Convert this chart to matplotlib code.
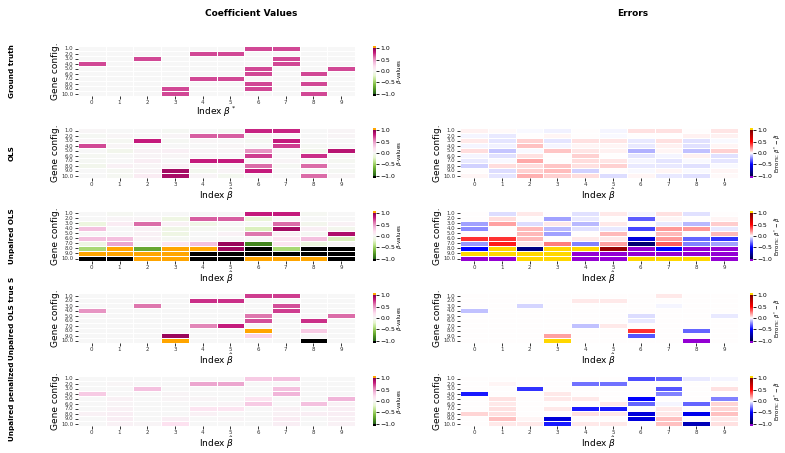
import numpy as np
import matplotlib.pyplot as plt
from matplotlib import colors as mcolors

# values > 1 are drawn as 1.5 (over colour), values < -1 as -1.5 (under colour)
O = 1.5
U = -1.5

genes = [1.0, 2.0, 3.0, 4.0, 5.0, 6.0, 7.0, 8.0, 9.0, 10.0]
index = [0, 1, 2, 3, 4, 5, 6, 7, 8, 9]
row_names = ['Ground truth', 'OLS', 'Unpaired OLS', 'Unpaired OLS true S', 'Unpaired penalized']

beta_true = [
    [0, 0, 0, 0, 0, 0, .7, .7, 0, 0],
    [0, 0, 0, 0, .7, .7, 0, 0, 0, 0],
    [0, 0, .7, 0, 0, 0, 0, .7, 0, 0],
    [.7, 0, 0, 0, 0, 0, 0, .7, 0, 0],
    [0, 0, 0, 0, 0, 0, .7, 0, 0, .7],
    [0, 0, 0, 0, 0, 0, .7, 0, .7, 0],
    [0, 0, 0, 0, .7, .7, 0, 0, 0, 0],
    [0, 0, 0, 0, 0, 0, .7, 0, .7, 0],
    [0, 0, 0, .7, 0, 0, .7, 0, 0, 0],
    [0, 0, 0, .7, 0, 0, 0, 0, .7, 0],
]

beta_ols = [
    [.02, 0, 0, -.02, 0, -.02, .78, .78, 0, .03],
    [-.02, .02, 0, .03, .65, .65, -.03, 0, 0, .03],
    [.02, -.03, .8, -.02, .02, 0, -.02, .8, 0, 0],
    [.7, .02, 0, 0, 0, .02, 0, .72, -.02, 0],
    [0, -.06, .04, .06, .03, .02, .5, 0, -.06, .85],
    [-.03, 0, .03, .02, .02, 0, .72, 0, .75, 0],
    [-.02, 0, .08, 0, .8, .8, 0, .03, 0, -.03],
    [-.06, .05, .02, .05, .02, 0, .62, -.02, .62, 0],
    [0, -.03, .04, .92, -.04, .03, .8, 0, 0, -.02],
    [0, -.03, .1, .9, .03, -.04, 0, 0, .62, .02],
]

beta_unpaired = [
    [0, -.03, 0, 0, 0, 0, .8, .8, -.03, 0],
    [0, .03, .03, -.1, .65, .65, -.15, 0, 0, 0],
    [-.12, .1, .62, .05, -.08, 0, 0, .62, -.05, .05],
    [.35, 0, .05, -.08, -.03, -.03, -.25, .92, .08, -.05],
    [0, 0, .05, -.1, 0, .05, .6, .05, -.02, .88],
    [.35, .35, .05, -.03, 0, 0, 0, .15, .35, -.25],
    [-.1, .45, 0, .15, .35, .95, -.85, .15, -.12, .03],
    [-.45, O, -.7, O, O, .95, U, -.45, U, U],
    [O, O, O, O, U, U, U, U, U, U],
    [U, U, O, O, U, U, O, O, O, U],
]

beta_true_s = [
    [0, 0, 0, 0, 0, 0, .72, .72, 0, 0],
    [0, 0, 0, 0, .75, .75, 0, 0, 0, 0],
    [0, 0, .6, 0, 0, 0, 0, .68, 0, 0],
    [.5, 0, 0, 0, 0, 0, 0, .72, 0, 0],
    [0, 0, 0, 0, 0, 0, .6, 0, 0, .62],
    [0, 0, 0, 0, 0, 0, .68, 0, .75, 0],
    [0, 0, 0, 0, .55, .8, 0, 0, 0, 0],
    [0, 0, 0, 0, 0, 0, O, 0, .3, 0],
    [0, 0, 0, .95, 0, 0, .25, 0, 0, 0],
    [0, 0, 0, O, 0, 0, 0, 0, U, 0],
]

beta_penalized = [
    [0, 0, 0, 0, 0, 0, .3, .35, 0, 0],
    [0, .02, 0, 0, .45, .45, 0, 0, 0, 0],
    [0, 0, .35, 0, 0, 0, 0, .35, 0, 0],
    [.3, 0, 0, .03, 0, 0, 0, .4, 0, 0],
    [0, .05, 0, .03, .03, 0, .15, 0, 0, .4],
    [0, .03, 0, 0, 0, .03, .3, 0, .35, .05],
    [0, .05, 0, 0, .15, .15, 0, .05, 0, .08],
    [.05, .08, 0, 0, .05, 0, 0, .05, .08, .08],
    [0, .08, 0, .08, 0, .03, 0, .1, 0, .05],
    [0, .05, .03, .18, 0, 0, 0, .08, 0, .05],
]

err_ols = [
    [.03, .01, -.01, -.03, 0, -.02, .06, .06, 0, .05],
    [-.02, -.04, 0, .02, 0, -.01, 0, 0, .03, .03],
    [.04, -.05, .09, -.05, .06, .05, -.04, .06, -.06, -.01],
    [-.02, -.03, .12, -.02, .02, .02, -.04, .03, -.06, .02],
    [.07, -.11, -.01, .11, .05, .03, -.15, .02, -.12, .09],
    [-.02, -.06, .06, 0, .09, 0, -.05, -.02, .03, -.06],
    [-.04, -.01, .17, 0, .07, .05, -.02, -.05, -.01, -.05],
    [-.09, .07, .07, .11, .06, .09, -.04, -.04, -.06, -.01],
    [0, -.07, .09, .13, -.09, 0, -.01, .02, -.01, .02],
    [.02, -.05, .15, .09, .07, -.07, .02, -.04, -.06, .01],
]

err_unpaired = [
    [0, -.07, .04, 0, -.06, .04, -.02, .06, -.06, 0],
    [0, .07, 0, -.18, -.04, 0, -.32, .02, 0, .02],
    [-.18, .18, -.07, .04, -.14, .04, 0, -.04, -.14, .1],
    [-.22, 0, .14, -.14, -.06, -.04, -.36, .2, .2, -.04],
    [0, 0, .14, -.18, 0, .14, 0, .14, 0, .14],
    [.4, .4, .14, 0, .04, .04, -.6, .2, -.3, -.4],
    [-.2, .45, .04, .25, -.25, .18, -.9, .32, -.25, -.18],
    [-.5, O, -.85, O, O, .9, U, -.5, U, U],
    [O, O, O, O, U, U, U, U, U, U],
    [U, U, O, O, U, U, O, O, O, U],
]

err_true_s = [
    [0, 0, 0, 0, 0, 0, 0, .04, 0, 0],
    [0, 0, 0, 0, .04, .04, 0, 0, 0, 0],
    [0, 0, -.08, 0, 0, 0, 0, -.02, 0, 0],
    [-.12, 0, 0, 0, 0, 0, 0, 0, 0, 0],
    [0, 0, 0, 0, 0, 0, -.07, 0, 0, -.04],
    [0, 0, 0, 0, 0, 0, -.04, 0, 0, 0],
    [0, 0, 0, 0, -.12, .04, 0, 0, 0, 0],
    [0, 0, 0, 0, 0, 0, .4, 0, -.3, 0],
    [0, 0, 0, .18, 0, 0, -.33, 0, 0, 0],
    [0, 0, 0, O, 0, 0, 0, 0, U, 0],
]

err_penalized = [
    [0, 0, 0, 0, 0, 0, -.35, -.3, -.04, -.02],
    [0, .02, 0, 0, -.28, -.28, 0, 0, 0, 0],
    [0, 0, -.4, 0, 0, 0, 0, -.33, 0, .06],
    [-.45, 0, 0, .04, 0, 0, 0, -.25, 0, 0],
    [0, .06, 0, .04, .04, 0, -.5, 0, 0, -.25],
    [0, .04, 0, 0, 0, .04, -.3, -.02, -.3, .08],
    [0, .06, 0, .04, -.45, -.45, 0, .04, 0, .08],
    [.08, .06, 0, 0, .06, .04, -.6, .04, -.55, .12],
    [0, .12, .02, -.6, 0, 0, -.6, .12, 0, .04],
    [0, .04, .04, -.45, .04, .04, 0, .12, -.7, .06],
]

coef_cmap = plt.get_cmap('PiYG_r').copy()
coef_cmap.set_over('orange')
coef_cmap.set_under('black')
err_cmap = plt.get_cmap('seismic').copy()
err_cmap.set_over('gold')
err_cmap.set_under('darkviolet')
norm = mcolors.Normalize(vmin=-1, vmax=1)


def draw(fig, rect, cbar_x, data, cmap, xlabel, clabel):
    ax = fig.add_axes(rect)
    mesh = ax.pcolormesh(np.array(data, dtype=float), cmap=cmap, norm=norm,
                         edgecolors='white', linewidth=0.45)
    ax.set_xlim(0, len(index))
    ax.set_ylim(len(genes), 0)
    ax.set_xticks(np.arange(len(index)) + 0.5)
    ax.set_xticklabels([str(i) for i in index], fontsize=4)
    ax.set_yticks(np.arange(len(genes)) + 0.5)
    ax.set_yticklabels(['%.1f' % g for g in genes], fontsize=3.9)
    ax.tick_params(length=2, width=0.7, pad=1.5, colors='#333333')
    ax.tick_params(axis='x', pad=1)
    for s in ax.spines.values():
        s.set_visible(False)
    ax.set_xlabel(xlabel, fontsize=6.5, labelpad=-0.5)
    ax.set_ylabel('Gene config.', fontsize=6.5, labelpad=1)
    cax = fig.add_axes([cbar_x, rect[1], 0.004, rect[3]])
    cb = fig.colorbar(mesh, cax=cax, extend='both', extendfrac=0.05, extendrect=True)
    cb.outline.set_visible(False)
    cb.set_ticks([-1.0, -0.5, 0.0, 0.5, 1.0])
    cb.ax.tick_params(labelsize=4.4, length=2, width=0.6, pad=1)
    cb.set_label(clabel, fontsize=4.0, labelpad=0)
    return ax


W, H = 785, 453
fig = plt.figure(figsize=(W / 100, H / 100), dpi=100)

tops = [46, 128, 211, 293, 376]
coef_data = [beta_true, beta_ols, beta_unpaired, beta_true_s, beta_penalized]
err_data = [None, err_ols, err_unpaired, err_true_s, err_penalized]

for i, top in enumerate(tops):
    bottom = 1 - (top + 50) / H
    xl = r'Index $\beta^*$' if i == 0 else r'Index $\hat{\beta}$'
    draw(fig, [78 / W, bottom, 277 / W, 50 / H], 373 / W, coef_data[i],
         coef_cmap, xl, r'$\beta$-values')
    if err_data[i] is not None:
        draw(fig, [460 / W, bottom, 278 / W, 50 / H], 750 / W, err_data[i],
             err_cmap, xl, r'Errors: $\beta^* - \hat{\beta}$')
    fig.text(12 / W, bottom + 25 / H, row_names[i], rotation=90, ha='center',
             va='center', fontsize=5.2, fontweight='bold')

fig.text(251 / W, 1 - 13 / H, 'Coefficient Values', ha='center', va='center',
         fontsize=6.5, fontweight='bold')
fig.text(633 / W, 1 - 13 / H, 'Errors', ha='center', va='center',
         fontsize=6.5, fontweight='bold')

fig.savefig('out.png', dpi=100)
